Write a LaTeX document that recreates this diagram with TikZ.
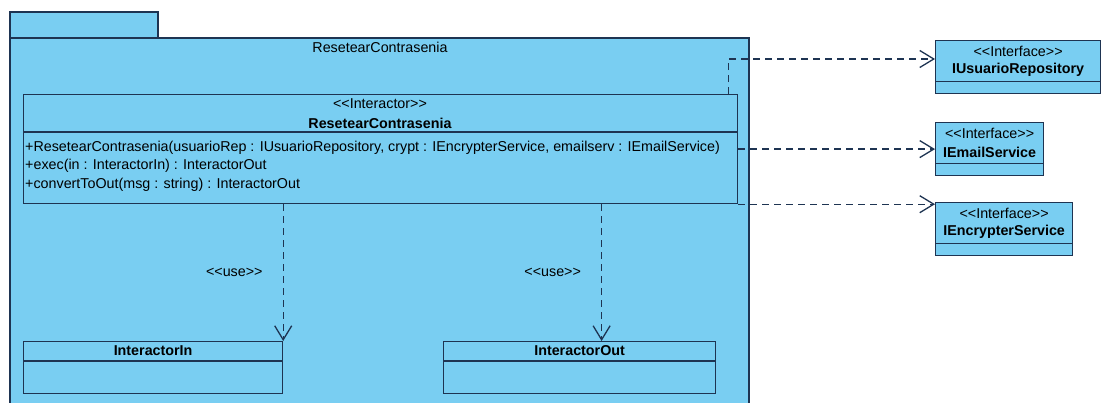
\documentclass[tikz,border=0pt]{standalone}
\usepackage{fontspec}
\setmainfont{Liberation Sans}
\usepackage{tikz}
\usetikzlibrary{arrows.meta,calc,positioning}
\definecolor{pkgblue}{HTML}{79CEF2}
\definecolor{navy}{HTML}{1E3452}
% keep << >> as two characters
\newcommand{\stereo}[1]{<\kern0pt<#1>\kern0pt>}
\tikzset{
  every node/.style={font=\fontsize{14.3}{16}\selectfont,inner sep=0pt,text=black},
  pkg/.style={draw=navy,line width=1.2pt,fill=pkgblue},
  cls/.style={draw=navy,line width=1.2pt,fill=pkgblue,anchor=north west,inner sep=0pt},
  sep/.style={draw=navy,line width=1.2pt},
  dep/.style={navy,line width=1.3pt,dash pattern=on 7pt off 5pt,-{Straight Barb[length=14pt,width=17pt,line width=1.3pt]}},
  cname/.style={font=\fontsize{14.3}{16}\selectfont\bfseries},
  oper/.style={anchor=west},
}

\begin{document}
\begin{tikzpicture}[x=1pt,y=-1pt]
  \useasboundingbox (0,0) rectangle (1101,402);
  \clip (0,0) rectangle (1101,402);
  % package frame
  \draw[pkg] (10,12) rectangle (158,38);
  \draw[pkg] (10,38) rectangle (749,410);
  \node (pname) at (380,47) {ResetearContrasenia};

  % interactor class
  \node[cls,minimum width=714pt,minimum height=109pt] (ctrl) at (23,94) {};
  \draw[sep] ($(ctrl.north west)+(0,38)$) -- ($(ctrl.north east)+(0,38)$);
  \node (ctrlst) at (380,104) {\stereo{Interactor}};
  \node[cname] (ctrlnm) at (380,123) {ResetearContrasenia};
  \node[oper] (op1) at (25,148) {+ResetearContrasenia(usuarioRep : IUsuarioRepository, crypt : IEncrypterService, emailserv : IEmailService)};
  \node[oper] (op2) at (25,166) {+exec(in : InteractorIn) : InteractorOut};
  \node[oper] (op3) at (25,185) {+convertToOut(msg : string) : InteractorOut};

  % in / out data classes
  \node[cls,minimum width=259pt,minimum height=52pt] (iin) at (23,341) {};
  \node[cls,minimum width=272pt,minimum height=52pt] (iout) at (443,341) {};
  \foreach \c/\t in {iin/InteractorIn,iout/InteractorOut} {
    \draw[sep] ($(\c.north west)+(0,20)$) -- ($(\c.north east)+(0,20)$);
    \node[cname] (\c-nm) at ($(\c.north)+(0,10)$) {\t};
  }

  % interfaces
  \node[cls,minimum width=165pt,minimum height=53pt] (iusr) at (935,40) {};
  \node[cls,minimum width=108pt,minimum height=53pt] (iemail) at (935,122) {};
  \node[cls,minimum width=137pt,minimum height=53pt] (ienc) at (935,202) {};
  \foreach \c/\t in {iusr/IUsuarioRepository,iemail/IEmailService,ienc/IEncrypterService} {
    \draw[sep] ($(\c.south west)+(0,-13)$) -- ($(\c.south east)+(0,-13)$);
    \node (\c-st) at ($(\c.north)+(0,11)$) {\stereo{Interface}};
    \node[cname] (\c-nm) at ($(\c.north)+(0,30)$) {\t};
  }

  % dependencies
  \coordinate (intip) at (iin.north east);
  \coordinate (outtip) at ([xshift=22pt]iout.north);
  \draw[dep] ([xshift=-10pt]ctrl.north east) |- ([yshift=-19pt]iusr.north west);
  \draw[dep] (ctrl.east |- iemail.west) -- (iemail.west);
  \draw[dep] (ctrl.south east) -- (ctrl.south east -| ienc.west);
  \draw[dep] (ctrl.south -| intip) -- node[left=20pt] (use1) {\stereo{use}} (intip);
  \draw[dep] (ctrl.south -| outtip) -- node[left=20pt] (use2) {\stereo{use}} (outtip);
\end{tikzpicture}
\end{document}
